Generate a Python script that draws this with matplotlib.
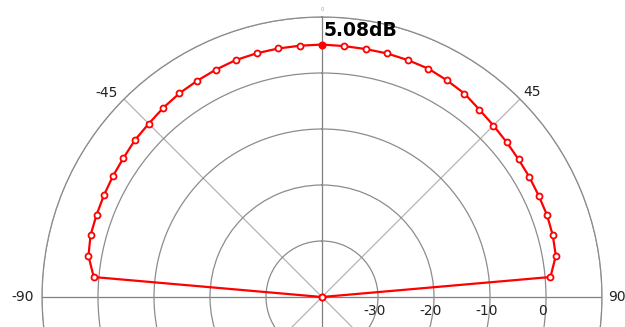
import numpy as np
import matplotlib
matplotlib.use("Agg")
import matplotlib.pyplot as plt
from matplotlib.transforms import offset_copy

# ---- data ----
angles_deg = [-90, -85, -80, -75, -70, -65, -60, -55, -50, -45, -40, -35, -30, -25, -20, -15, -10, -5,
              0, 5, 10, 15, 20, 25, 30, 35, 40, 45, 50, 55, 60, 65, 70, 75, 80, 85, 90]
gain_db = [-40, 0.92, 2.35, 2.78, 2.85, 2.97, 3.13, 3.28, 3.60, 3.76, 4.10, 4.40, 4.58, 4.81, 5.02, 5.06, 5.06, 5.05,
           5.08, 4.98, 4.96, 5.02, 5.00, 4.98, 4.66, 4.35, 3.70, 3.30, 3.03, 2.85, 2.78, 2.72, 2.76, 2.66, 2.40, 0.95, -40]
peak_angle = 0
peak_label = "5.08dB"
r_ticks = [-30, -20, -10, 0, 10]
r_tick_labels = ["-30", "-20", "-10", "0"]
theta_grid = [0, 45, 90, 135, 180, 225, 270, 315]
theta_labels = {-45: "-45", 45: "45", -90: "-90", 90: "90"}
r_min, r_max = -40, 10

fig = plt.figure(figsize=(6.25, 3.27), dpi=100)
ax = fig.add_axes([42 / 625, (327 - 577) / 327, 560 / 625, 560 / 327], projection="polar")
ax.set_theta_zero_location("N")
ax.set_theta_direction(-1)
ax.set_ylim(r_min, r_max)

# grid
ax.set_thetagrids(theta_grid, labels=[""] * len(theta_grid))
ax.set_rgrids(r_ticks, labels=[""] * len(r_ticks))
ax.grid(True)
for i, gl in enumerate(ax.xaxis.get_gridlines()):
    ang = theta_grid[i]
    if ang % 90 == 0:
        gl.set_color("#808080")
    else:
        gl.set_color("#b4b4b4")
    gl.set_linewidth(0.9)
    gl.set_linestyle("-")
for gl in ax.yaxis.get_gridlines():
    gl.set_color("#8c8c8c")
    gl.set_linewidth(0.9)
    gl.set_linestyle("-")
ax.spines["polar"].set_color("#8c8c8c")
ax.spines["polar"].set_linewidth(0.9)
ax.tick_params(length=0)

# data line
th = np.deg2rad(angles_deg)
ax.plot(th, gain_db, color="#ff0000", lw=1.6, marker="o", ms=4.3,
        mfc="white", mec="#ff0000", mew=1.3, clip_on=False, zorder=5)
pk = gain_db[angles_deg.index(peak_angle)]
ax.plot([np.deg2rad(peak_angle)], [pk], marker="o", ms=4.5, mfc="#ff0000", mec="#ff0000",
        linestyle="none", zorder=6)
ax.annotate(peak_label, xy=(np.deg2rad(peak_angle), pk), xytext=(1, 6),
            textcoords="offset points", ha="left", va="baseline",
            fontsize=13.5, fontweight="bold", color="black", zorder=7)

# angle labels
label_pos = {-45: (-46.5, 13.0), 45: (45.8, 12.4), -90: (-90, 13.5), 90: (90, 12.6)}
for a, txt in theta_labels.items():
    ta, rr = label_pos[a]
    ax.text(np.deg2rad(ta), rr, txt, ha="center", va="center", fontsize=10,
            color="#222222", clip_on=False)
ax.text(0, 11.3, "0", ha="center", va="center", fontsize=3.5, color="#999999", clip_on=False)

# radial labels
tr = offset_copy(ax.transData, fig=fig, x=-3.5, y=-14, units="dots")
for rv, txt in zip(r_ticks, r_tick_labels):
    ax.text(np.pi / 2, rv, txt, transform=tr, ha="center", va="center",
            fontsize=10, color="#222222", clip_on=False)

fig.savefig("out.png", dpi=100)
